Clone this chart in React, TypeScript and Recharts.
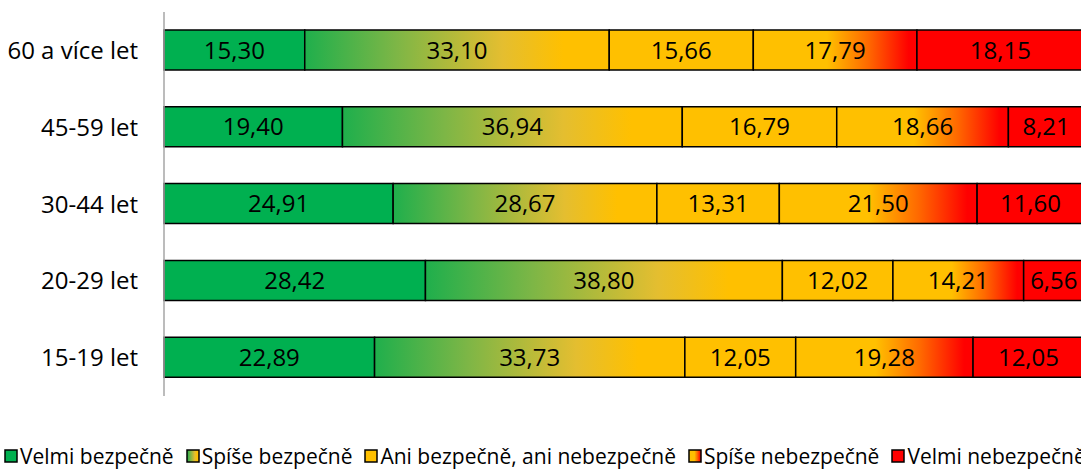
import { BarChart, Bar, XAxis, YAxis, Legend, LabelList } from "recharts";

const categories = ["60 a více let", "45-59 let", "30-44 let", "20-29 let", "15-19 let"];
const velmiBezpecne = [15.3, 19.4, 24.91, 28.42, 22.89];
const spiseBezpecne = [33.1, 36.94, 28.67, 38.8, 33.73];
const aniAni = [15.66, 16.79, 13.31, 12.02, 12.05];
const spiseNebezpecne = [17.79, 18.66, 21.5, 14.21, 19.28];
const velmiNebezpecne = [18.15, 8.21, 11.6, 6.56, 12.05];

const seriesNames = [
    "Velmi bezpečně",
    "Spíše bezpečně",
    "Ani bezpečně, ani nebezpečně",
    "Spíše nebezpečně",
    "Velmi nebezpečně",
];

const data = categories.map((name, i) => ({
    name,
    vb: velmiBezpecne[i],
    sb: spiseBezpecne[i],
    aa: aniAni[i],
    sn: spiseNebezpecne[i],
    vn: velmiNebezpecne[i],
}));

const series = [
    { key: "vb", fill: "#00B050" },
    { key: "sb", fill: "url(#gradSB)" },
    { key: "aa", fill: "#FFC000" },
    { key: "sn", fill: "url(#gradSN)" },
    { key: "vn", fill: "#FF0000" },
];

const font = "'Open Sans', sans-serif";

const fmt = (v: any) => Number(v).toFixed(2).replace(".", ",");

function Gradients({ prefix = "" }: { prefix?: string }) {
    return (
        <defs>
            <linearGradient id={`${prefix}gradSB`} x1="0" y1="0" x2="1" y2="0">
                <stop offset="0%" stopColor="#1FAF4C" />
                <stop offset="30%" stopColor="#7DB646" />
                <stop offset="65%" stopColor="#E4BE30" />
                <stop offset="85%" stopColor="#FFC000" />
                <stop offset="100%" stopColor="#FFC000" />
            </linearGradient>
            <linearGradient id={`${prefix}gradSN`} x1="0" y1="0" x2="1" y2="0">
                <stop offset="0%" stopColor="#FFC000" />
                <stop offset="45%" stopColor="#FFC000" />
                <stop offset="70%" stopColor="#FF6A00" />
                <stop offset="95%" stopColor="#FF0000" />
                <stop offset="100%" stopColor="#FF0000" />
            </linearGradient>
        </defs>
    );
}

function LegendContent() {
    return (
        <div style={{ display: "flex", fontFamily: font, fontSize: 21, lineHeight: "26px", color: "#000", whiteSpace: "nowrap" }}>
            {series.map((s, i) => (
                <div key={s.key} style={{ display: "flex", alignItems: "center", marginRight: 12 }}>
                    <svg width={14} height={14} style={{ marginRight: 2 }}>
                        <Gradients prefix="lg" />
                        <rect
                            x={1}
                            y={1}
                            width={12}
                            height={12}
                            fill={s.fill.replace("url(#", "url(#lg")}
                            stroke="#000"
                            strokeWidth={1.5}
                        />
                    </svg>
                    <span>{seriesNames[i]}</span>
                </div>
            ))}
        </div>
    );
}

export default function App() {
    return (
        <div style={{ position: "absolute", left: 0, top: 0, width: 1081, height: 471, overflow: "hidden", background: "#fff" }}>
            <BarChart
                width={1100}
                height={471}
                data={data}
                layout="vertical"
                margin={{ top: 12, right: 16, bottom: 49, left: 0 }}
            >
                <Gradients />
                <XAxis type="number" domain={[0, 100]} hide />
                <YAxis
                    type="category"
                    dataKey="name"
                    width={164}
                    tickLine={false}
                    tickSize={0}
                    tickMargin={26}
                    axisLine={{ stroke: "#A6A6A6", strokeWidth: 1.5 }}
                    tick={{ fill: "#000", fontSize: 24, fontFamily: font }}
                />
                <Legend
                    content={<LegendContent />}
                    wrapperStyle={{ position: "absolute", left: 4, top: 443, width: 1200, height: 26 }}
                />
                {series.map((s, i) => (
                    <Bar
                        key={s.key}
                        dataKey={s.key}
                        name={seriesNames[i]}
                        stackId="a"
                        fill={s.fill}
                        stroke="#000"
                        strokeWidth={1.5}
                        barSize={40}
                        isAnimationActive={false}
                    >
                        <LabelList dataKey={s.key} position="center" formatter={fmt} fill="#000" fontSize={24} fontFamily={font} />
                    </Bar>
                ))}
            </BarChart>
        </div>
    );
}
